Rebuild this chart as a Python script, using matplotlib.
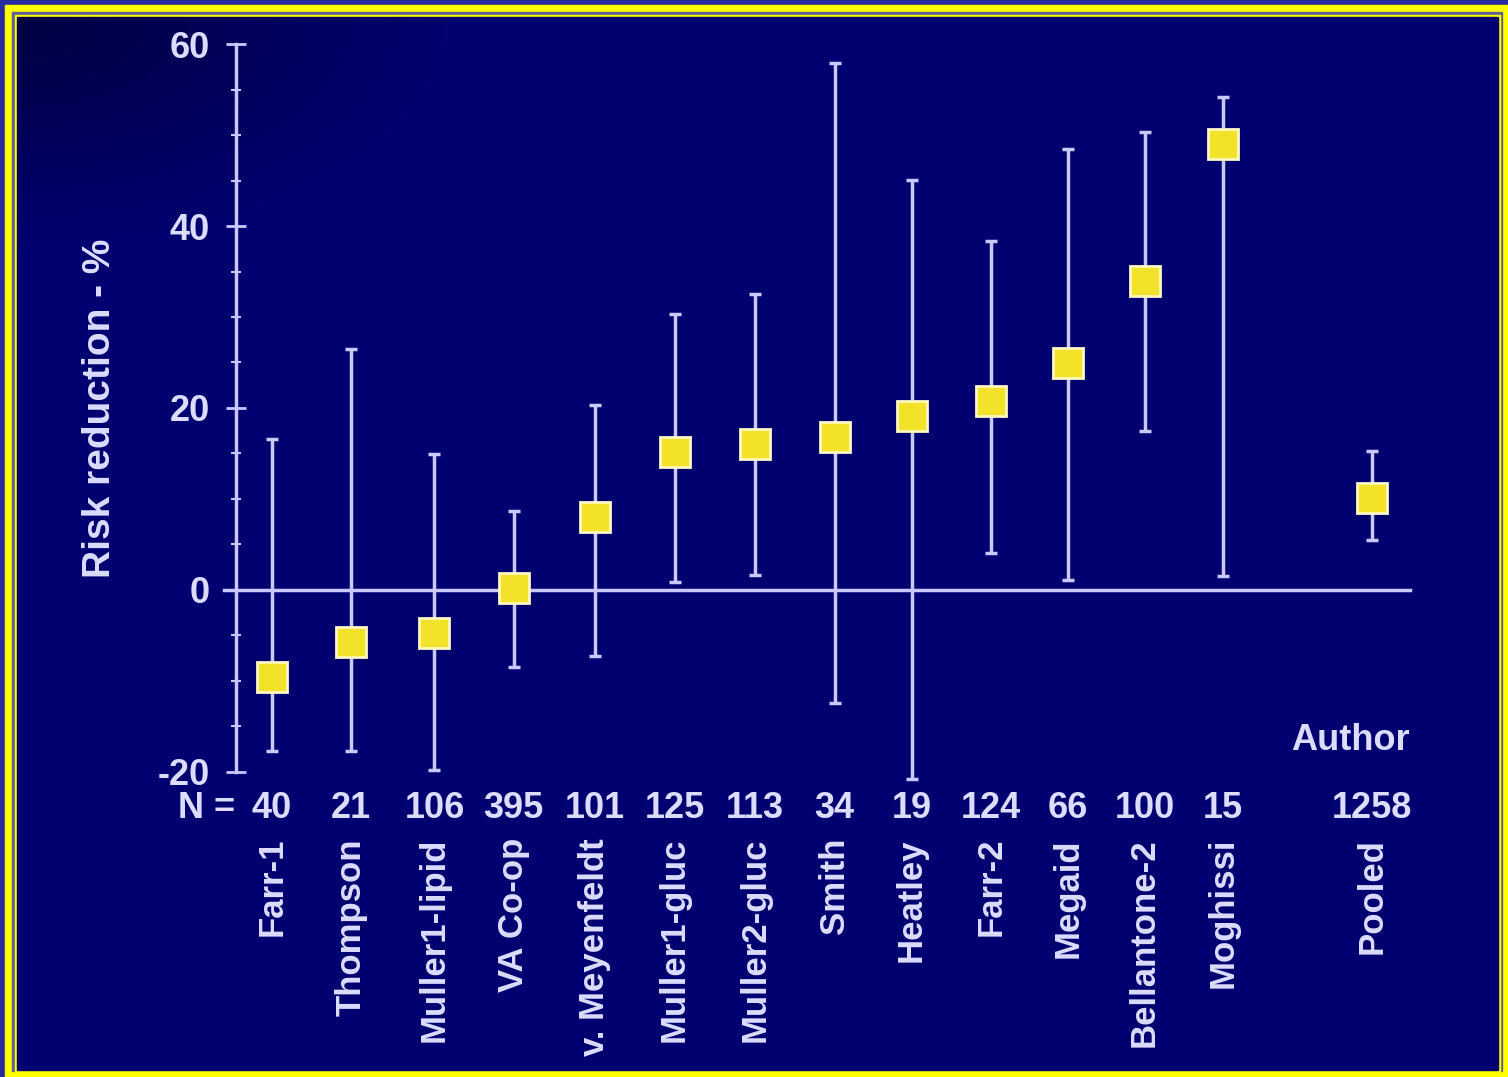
import numpy as np
import matplotlib.pyplot as plt
from matplotlib.patches import Rectangle
from matplotlib.transforms import blended_transform_factory

authors = ["Farr-1", "Thompson", "Muller1-lipid", "VA Co-op", "v. Meyenfeldt",
           "Muller1-gluc", "Muller2-gluc", "Smith", "Heatley", "Farr-2",
           "Megaid", "Bellantone-2", "Moghissi", "Pooled"]
n_patients = ["40", "21", "106", "395", "101", "125", "113", "34", "19",
              "124", "66", "100", "15", "1258"]
risk_red = [-9.6, -5.7, -4.7, 0.2, 8.0, 15.2, 16.0, 16.8, 19.1, 20.8, 24.9, 34.0, 49.0, 10.1]
ci_low = [-17.7, -17.7, -19.8, -8.5, -7.3, 0.9, 1.6, -12.4, -20.8, 4.1, 1.1, 17.5, 1.5, 5.5]
ci_high = [16.6, 26.5, 14.9, 8.7, 20.3, 30.3, 32.5, 57.9, 45.1, 38.3, 48.5, 50.3, 54.2, 15.3]
xpos = [0, 1.0, 2.05, 3.05, 4.07, 5.08, 6.09, 7.1, 8.07, 9.07, 10.04, 11.01, 12.0, 13.88]

W, H = 1508, 1077
navy = "#000070"
pale = "#c8c8ff"
txt = "#dcdcff"

plt.rcParams['font.family'] = ['Liberation Sans', 'DejaVu Sans']
plt.rcParams['axes.unicode_minus'] = False
fig = plt.figure(figsize=(W / 100, H / 100), dpi=100)
fig.patch.set_facecolor("#2a2aa0")

def px_rect(x0, y0, x1, y1, color, z):
    fig.patches.append(Rectangle((x0 / W, 1 - y1 / H), (x1 - x0) / W, (y1 - y0) / H,
                                 transform=fig.transFigure, color=color, zorder=z))

# frame: yellow band, thin grey line, yellow line, navy inside
px_rect(5, 5, W, H, "#ffff00", 0)
px_rect(12, 12, W - 6, H - 6, "#606098", 0.1)
px_rect(15, 15, W - 8, H - 3, "#ffff00", 0.2)
px_rect(17, 17, W - 10, H - 7, navy, 0.3)

# slightly darker top-left corner of the background
bg = fig.add_axes([17 / W, 7 / H, (W - 27) / W, (H - 24) / H], zorder=0.5)
gx, gy = np.meshgrid(np.linspace(0, 1, 300), np.linspace(0, 1, 220))
shade = np.clip(1 - np.hypot(gx / 0.3, gy / 0.22), 0, 1)
rgb = np.zeros((220, 300, 3))
rgb[..., 2] = (112 - 45 * shade) / 255
bg.imshow(rgb, aspect='auto', extent=(0, 1, 0, 1))
bg.axis('off')

# main axes: y = 590 - 9.1 * v pixels, x = 272 + 79.25 * i pixels
ax = fig.add_axes([236 / W, 1 - 790 / H, (1410 - 236) / W, (790 - 35) / H], zorder=1)
ax.patch.set_alpha(0)
ax.set_xlim((236 - 272) / 79.25, (1410 - 272) / 79.25)
ax.set_ylim(-22, 61)

ax.axhline(0, color=pale, lw=2.5, xmin=-0.01, clip_on=False, zorder=1)

yerr = [np.array(risk_red) - np.array(ci_low), np.array(ci_high) - np.array(risk_red)]
ax.errorbar(xpos, risk_red, yerr=yerr, fmt='none', ecolor=pale, elinewidth=2.5,
            capsize=4.5, capthick=2.5, clip_on=False, zorder=2)
ax.plot(xpos, risk_red, 's', ms=21, mfc="#f2e22a", mec="#fff8c0", mew=2, zorder=3)

for s in ["top", "right", "bottom"]:
    ax.spines[s].set_visible(False)
ax.spines["left"].set_color(pale)
ax.spines["left"].set_linewidth(2.5)
ax.spines["left"].set_bounds(-20, 60)
ax.set_yticks([-20, 0, 20, 40, 60])
ax.set_yticks(np.arange(-20, 61, 5), minor=True)
ax.tick_params(axis='y', which='major', direction='inout', length=14, width=2,
               color=pale, labelcolor=txt, labelsize=26, pad=12)
ax.tick_params(axis='y', which='minor', direction='inout', length=7, width=1.5, color=pale)
for lab in ax.get_yticklabels():
    lab.set_fontweight('bold')
ax.set_xticks([])

fig.text(100 / W, 1 - 408 / H, "Risk reduction - %", rotation=90, ha='center', va='center',
         color=txt, fontsize=28, fontweight='bold')

trans = blended_transform_factory(ax.transData, ax.transAxes)
n_y = (790 - 809) / (790 - 35)
name_y = (790 - 838) / (790 - 35)
ax.text(-0.47, n_y, "N =", transform=trans, ha='right', va='center', color=txt,
        fontsize=26, fontweight='bold')
for x, n, a in zip(xpos, n_patients, authors):
    ax.text(x, n_y, n, transform=trans, ha='center', va='center', color=txt,
            fontsize=26, fontweight='bold')
    ax.text(x, name_y, a, transform=trans, ha='center', va='top', rotation=90,
            color=txt, fontsize=25, fontweight='bold')

ax.text(1, (790 - 740) / (790 - 35), "Author", transform=ax.transAxes, ha='right',
        va='center', color=txt, fontsize=26, fontweight='bold')

fig.savefig("out.png", dpi=100, facecolor=fig.get_facecolor())
